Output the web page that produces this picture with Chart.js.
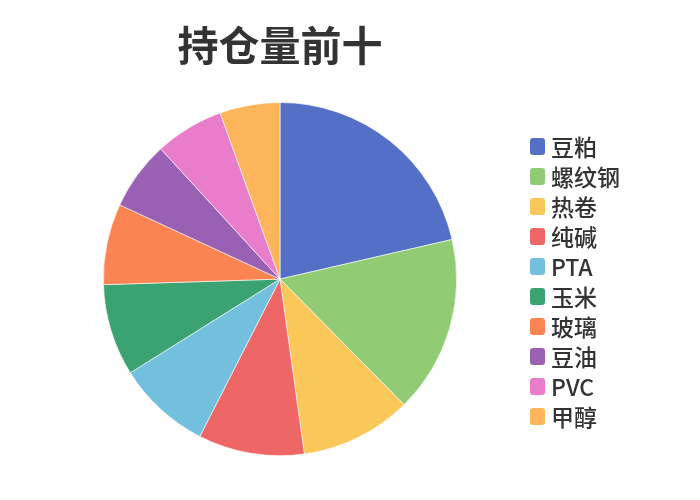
<!DOCTYPE html>
<html>
<head>
<meta charset="utf-8">
<title>持仓量前十</title>
<script src="https://cdn.jsdelivr.net/npm/chart.js@4.4.0/dist/chart.umd.min.js"></script>
<style>
  html, body { margin:0; padding:0; background:#fff; }
  #wrap { width:700px; height:500px; }
</style>
</head>
<body>
<div id="wrap"><canvas id="posChart" width="700" height="500"></canvas></div>
<script>
// ===== Data =====
const products = ["豆粕", "螺纹钢", "热卷", "纯碱", "PTA", "玉米", "玻璃", "豆油", "PVC", "甲醇"];
const shares = [21.4, 16.2, 10.2, 9.7, 8.6, 8.4, 7.4, 6.3, 6.3, 5.5];
const colors = ["#5470c6", "#91cc75", "#fac858", "#ee6666", "#73c0de", "#3ba272", "#fc8452", "#9a60b4", "#ea7ccc", "#fcb55a"];

const FONT = '"Noto Sans CJK SC", "Noto Sans", sans-serif';

// ===== Legend on the right (drawn on the canvas) =====
const sideLegend = {
  id: 'sideLegend',
  afterDraw(chart){
    const ctx = chart.ctx;
    const labels = chart.data.labels;
    const bg = chart.data.datasets[0].backgroundColor;
    ctx.save();
    ctx.font = '500 23px ' + FONT;
    ctx.textBaseline = 'middle';
    ctx.textAlign = 'left';
    labels.forEach((lab, i) => {
      const y = 146 + i * 30;
      ctx.fillStyle = bg[i];
      ctx.beginPath();
      ctx.roundRect(530, y - 8, 15, 17, 3);
      ctx.fill();
      ctx.fillStyle = '#333';
      ctx.fillText(lab, 551, y + 1);
    });
    ctx.restore();
  }
};

// ===== Chart =====
const ctx = document.getElementById("posChart").getContext("2d");
const posChart = new Chart(ctx, {
  type: "pie",
  data: {
    labels: products,
    datasets: [{
      data: shares,
      backgroundColor: colors,
      borderColor: "#fff",
      borderWidth: 0.6,
      hoverOffset: 0
    }]
  },
  options: {
    responsive: false,
    animation: false,
    layout: { padding: { left: 103, right: 243, top: 0, bottom: 44 } },
    plugins: {
      legend: { display: false },
      tooltip: { enabled: false },
      title: {
        display: true,
        text: "持仓量前十",
        color: "#333",
        font: { family: FONT, size: 41, weight: "bold", lineHeight: 1.2 },
        padding: { top: 21, bottom: 32 }
      }
    }
  },
  plugins: [sideLegend]
});
</script>
</body>
</html>
